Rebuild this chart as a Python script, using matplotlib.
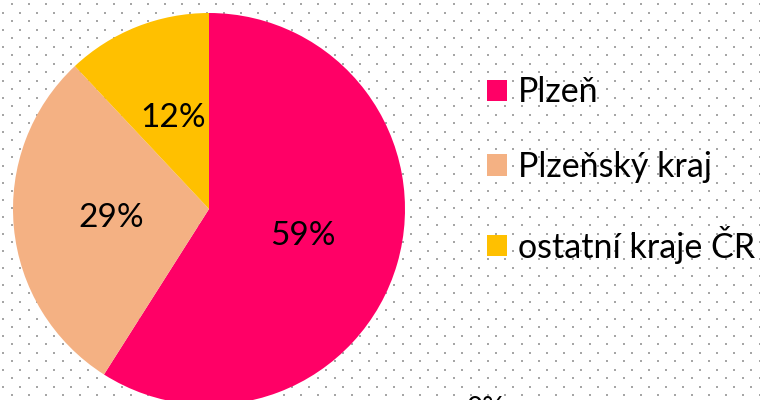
import numpy as np
import matplotlib
matplotlib.use("Agg")
import matplotlib.pyplot as plt
from matplotlib.patches import Patch

categories = ["Plzeň", "Plzeňský kraj", "ostatní kraje ČR"]
shares = [59, 29, 12]
colors = ["#FF0066", "#F4B183", "#FFC000"]

W, H = 760, 400
plt.rcParams['font.family'] = ['Lato', 'DejaVu Sans']

fig = plt.figure(figsize=(W / 100, H / 100), dpi=100)
fig.patch.set_facecolor("white")

# dotted background
bg = fig.add_axes([0, 0, 1, 1])
bg.set_xlim(0, W)
bg.set_ylim(H, 0)
bg.axis("off")
xs, ys = [], []
row = 0
y = 4.3
while y < H + 5:
    x0 = 11.7 if row % 2 == 0 else 3.2
    xx = np.arange(x0, W + 5, 17.0)
    xs.extend(xx)
    ys.extend([y] * len(xx))
    y += 8.5
    row += 1
bg.scatter(xs, ys, s=2.2, c="#a6a6a6", marker="s", linewidths=0, zorder=0)

# pie
ax = fig.add_axes([0, 0, 1, 1])
ax.patch.set_alpha(0)
cx, cy, r = 209, H - 209, 196
wedges, texts, autotexts = ax.pie(
    shares, colors=colors, startangle=90, counterclock=False,
    center=(cx, cy), radius=r, autopct=lambda p: f"{p:.0f}%", pctdistance=0.5,
    frame=True, wedgeprops=dict(linewidth=0),
    textprops=dict(fontsize=24, color="black"))
ax.set_xlim(0, W)
ax.set_ylim(0, H)
ax.set_aspect("equal")
ax.axis("off")

# partially visible label at bottom
ax.text(466, H - 396, "0%", fontsize=20, va="top", ha="left", color="black")

handles = [Patch(facecolor=c, edgecolor="none") for c in colors]
fs = 24.5
fpx = fs * 100 / 72
leg = ax.legend(handles, categories, loc="center left",
                bbox_to_anchor=(487 / W, (H - 170) / H),
                bbox_transform=fig.transFigure,
                frameon=False, fontsize=fs, borderpad=0, borderaxespad=0,
                handlelength=20 / fpx, handleheight=20 / fpx,
                handletextpad=11 / fpx, labelspacing=1.25)

fig.savefig("out.png", dpi=100)
